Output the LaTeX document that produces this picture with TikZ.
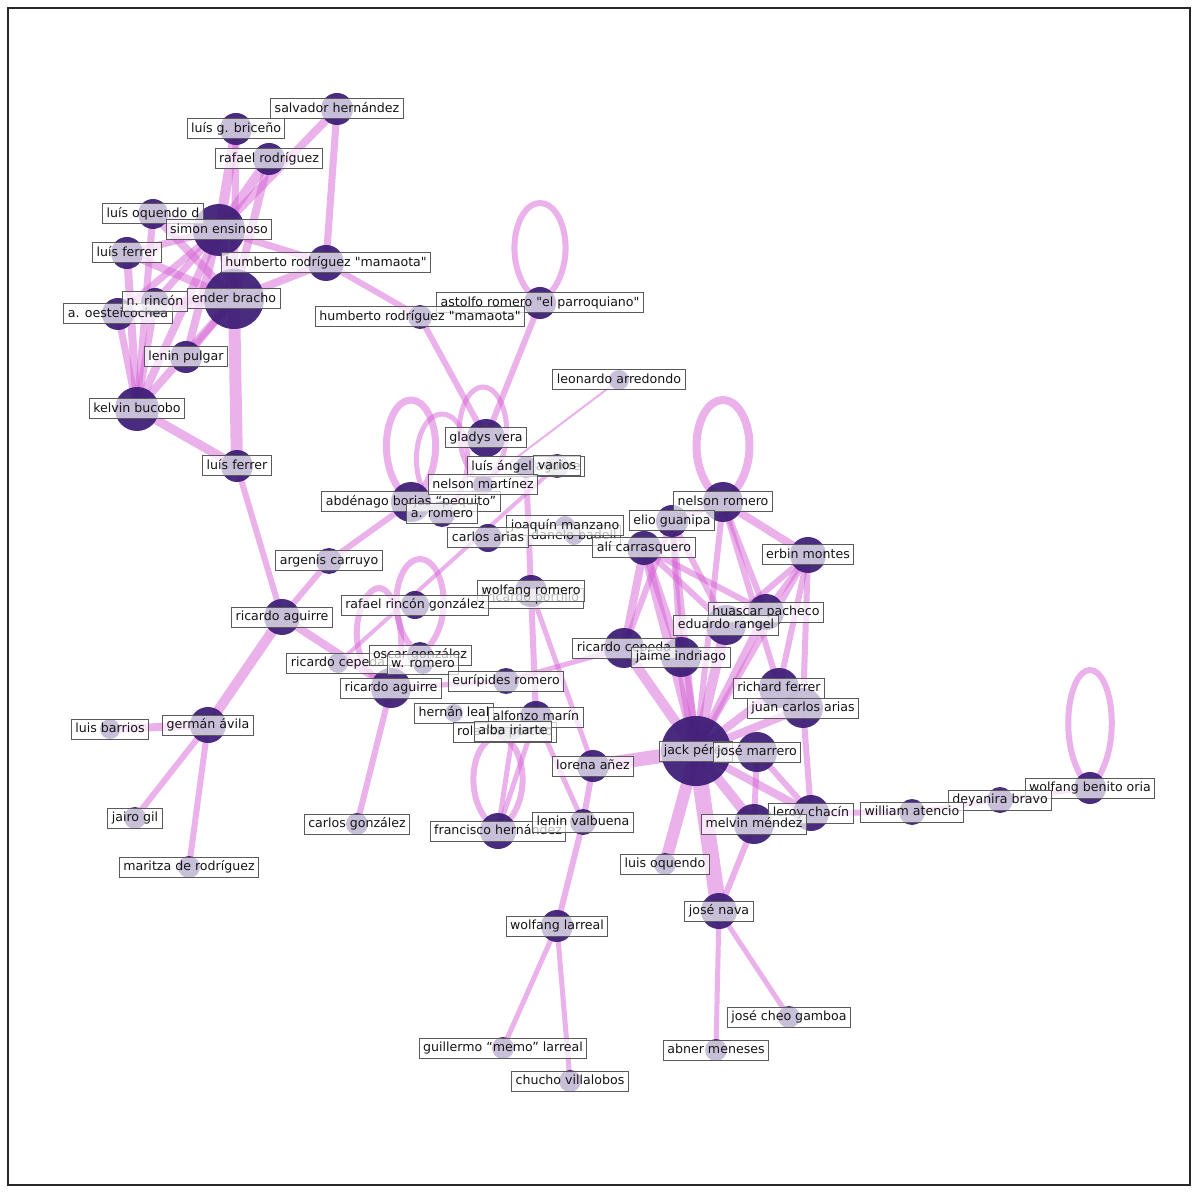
\documentclass[tikz,border=0pt]{standalone}
\usepackage{fontspec}
\setmainfont{DejaVu Sans}
\definecolor{nodec}{RGB}{60,28,118}
\definecolor{edgec}{RGB}{214,100,214}
\definecolor{boxc}{RGB}{90,90,90}
\definecolor{framec}{RGB}{40,40,40}
\definecolor{txtc}{RGB}{20,20,20}
\newcommand\qq{\textquotedbl}
\newcommand\gnodelist{%
\gnode{salv}{337}{109}{16}{salvador hernández}%
\gnode{brice}{236}{129}{16}{luís g. briceño}%
\gnode{rafr}{269}{159}{16}{rafael rodríguez}%
\gnode{oqd}{153}{214}{15}{luís oquendo d}%
\gnode{simon}{219}{230}{26}{simon ensinoso}%
\gnode{ferr1}{127}{253}{16}{luís ferrer}%
\gnode{hum1}{326}{263}{18}{humberto rodríguez \qq mamaota\qq}%
\gnode{ender}{234}{299}{30}{ender bracho}%
\gnode{oest}{118}{314}{16}{a. oesteicochea}%
\gnode{rincon}{155}{302}{14}{n. rincón}%
\gnode{pulgar}{186}{357}{16}{lenin pulgar}%
\gnode{kelvin}{137}{409}{22}{kelvin bucobo}%
\gnode{astol}{540}{303}{16}{astolfo romero \qq el parroquiano\qq}%
\gnode{hum2}{420}{317}{12}{humberto rodríguez \qq mamaota\qq}%
\gnode{leo}{619}{380}{10}{leonardo arredondo}%
\gnode{gladys}{486}{438}{19}{gladys vera}%
\gnode{langel}{526}{467}{11}{luís ángel aguirre}%
\gnode{varios}{557}{466}{12}{varios}%
\gnode{ferr2}{237}{466}{16}{luís ferrer}%
\gnode{abden}{411}{502}{20}{abdénago borjas “pequito”}%
\gnode{nmart}{483}{485}{10}{nelson martínez}%
\gnode{arom}{442}{514}{13}{a. romero}%
\gnode{danelo}{574}{536}{9}{danelo badell}%
\gnode{joaq}{565}{526}{10}{joaquín manzano}%
\gnode{carias}{488}{538}{14}{carlos arias}%
\gnode{nrom}{723}{502}{20}{nelson romero}%
\gnode{elio}{672}{521}{16}{elio guanipa}%
\gnode{ali}{644}{548}{17}{alí carrasquero}%
\gnode{erbin}{808}{555}{18}{erbin montes}%
\gnode{argen}{329}{561}{13}{argenis carruyo}%
\gnode{ric1}{282}{617}{18}{ricardo aguirre}%
\gnode{portillo}{533}{598}{9}{ricardo portillo}%
\gnode{wrom}{531}{591}{16}{wolfang romero}%
\gnode{rincong}{415}{605}{14}{rafael rincón gonzález}%
\gnode{huascar}{766}{612}{18}{huascar pacheco}%
\gnode{rangel}{726}{625}{20}{eduardo rangel}%
\gnode{cep2}{624}{648}{20}{ricardo cepeda}%
\gnode{jaime}{681}{657}{20}{jaime indriago}%
\gnode{cep1}{338}{663}{10}{ricardo cepeda}%
\gnode{oscar}{420}{655}{13}{oscar gonzález}%
\gnode{wr}{423}{664}{10}{w. romero}%
\gnode{ric2}{391}{688}{20}{ricardo aguirre}%
\gnode{eurip}{506}{681}{13}{eurípides romero}%
\gnode{richard}{779}{688}{20}{richard ferrer}%
\gnode{jca}{803}{708}{20}{juan carlos arias}%
\gnode{hernan}{454}{713}{9}{hernán leal}%
\gnode{rola}{505}{732}{9}{rolando portillo}%
\gnode{alfonzo}{536}{717}{16}{alfonzo marín}%
\gnode{alba}{513}{731}{9}{alba iriarte}%
\gnode{german}{208}{725}{18}{germán ávila}%
\gnode{barrios}{110}{729}{10}{luis barrios}%
\gnode{jack}{696}{751}{35}{jack pérez}%
\gnode{marrero}{757}{752}{20}{josé marrero}%
\gnode{lorena}{593}{766}{16}{lorena añez}%
\gnode{wbo}{1090}{788}{16}{wolfang benito oria}%
\gnode{deyan}{1000}{800}{13}{deyanira bravo}%
\gnode{william}{912}{812}{13}{william atencio}%
\gnode{leroy}{811}{813}{18}{leroy chacín}%
\gnode{melvin}{754}{824}{20}{melvin méndez}%
\gnode{franc}{498}{831}{18}{francisco hernández}%
\gnode{lvalb}{583}{822}{13}{lenin valbuena}%
\gnode{jairo}{135}{818}{11}{jairo gil}%
\gnode{cgonz}{357}{824}{11}{carlos gonzález}%
\gnode{loq}{665}{864}{11}{luis oquendo}%
\gnode{maritza}{189}{867}{11}{maritza de rodríguez}%
\gnode{nava}{719}{911}{18}{josé nava}%
\gnode{larreal}{557}{926}{16}{wolfang larreal}%
\gnode{cheo}{789}{1017}{11}{josé cheo gamboa}%
\gnode{memo}{503}{1048}{11}{guillermo “memo” larreal}%
\gnode{abner}{716}{1050}{11}{abner meneses}%
\gnode{chucho}{570}{1081}{11}{chucho villalobos}%
}
% self loop: node, half width, height, line width (px)
\newcommand\selfloop[4]{\draw[lp=#4] (#1) .. controls +(-1.5*#2,-0.3*#3) and +(-#2,0) .. ++(0,-#3)
  .. controls +(#2,0) and +(1.5*#2,-0.3*#3) .. (#1);}
\begin{document}
\begin{tikzpicture}[x=0.5pt,y=-0.5pt,
  vtx/.style={circle,fill=nodec,fill opacity=0.93,draw=none,inner sep=0pt,minimum size=#1*1pt},
  lbl/.style={draw=boxc,line width=0.5pt,fill=white,fill opacity=0.7,text opacity=1,text=txtc,
    inner xsep=2pt,inner ysep=1.9pt,text height=4.8pt,text depth=1.4pt,
    font=\fontsize{6.3}{7}\selectfont},
  ed/.style={draw=edgec,draw opacity=0.5,line width=#1*0.5pt},
  lp/.style={draw=edgec,draw opacity=0.5,line width=#1*0.5pt}]
\useasboundingbox (0,0) rectangle (1200,1192);
\fill[white] (0,0) rectangle (1200,1192);
\draw[framec,line width=0.6pt] (8,8) rectangle (1190,1185);
% coordinates
\def\gnode#1#2#3#4#5{\coordinate (#1) at (#2,#3);}
\gnodelist
\coordinate (ric2top) at (379,588);
% edges, top-left cluster
\draw[ed=8] (salv) -- (simon);
\draw[ed=7] (salv) -- (hum1);
\draw[ed=10] (brice) -- (simon);
\draw[ed=7] (brice) -- (ender);
\draw[ed=10] (rafr) -- (simon);
\draw[ed=8] (rafr) -- (ender);
\draw[ed=7] (oqd) -- (simon);
\draw[ed=8] (oqd) -- (ender);
\draw[ed=7] (oqd) -- (kelvin);
\draw[ed=7] (ferr1) -- (simon);
\draw[ed=8] (ferr1) -- (ender);
\draw[ed=8] (ferr1) -- (kelvin);
\draw[ed=10] (simon) -- (ender);
\draw[ed=7] (simon) -- (hum1);
\draw[ed=8] (simon) -- (kelvin);
\draw[ed=7] (simon) -- (oest);
\draw[ed=7] (simon) -- (rincon);
\draw[ed=8] (simon) -- (pulgar);
\draw[ed=8] (ender) -- (hum1);
\draw[ed=8] (ender) -- (kelvin);
\draw[ed=7] (ender) -- (pulgar);
\draw[ed=7] (ender) -- (rincon);
\draw[ed=7] (ender) -- (oest);
\draw[ed=12] (ender) -- (ferr2);
\draw[ed=7] (kelvin) -- (oest);
\draw[ed=7] (kelvin) -- (rincon);
\draw[ed=9] (kelvin) -- (ferr2);
% middle
\draw[ed=6] (hum1) -- (hum2);
\draw[ed=6] (hum2) -- (gladys);
\draw[ed=6] (astol) -- (gladys);
\draw[ed=6] (langel) -- (wrom);
\draw[ed=2] (leo) -- (arom);
\draw[ed=4] (cep1) -- (varios);
\draw[ed=6] (ferr2) -- (ric1);
\draw[ed=6] (ric1) -- (argen);
\draw[ed=6] (argen) -- (abden);
\draw[ed=10] (ric1) -- (german);
\draw[ed=8] (ric1) -- (ric2);
\draw[ed=8] (german) -- (barrios);
\draw[ed=6] (german) -- (jairo);
\draw[ed=6] (german) -- (maritza);
\draw[ed=6] (ric2) -- (cgonz);
\draw[ed=5] (ric2) -- (eurip);
\draw[ed=5] (eurip) -- (cep2);
\draw[ed=6] (wrom) -- (alfonzo);
\draw[ed=5] (wrom) -- (lorena);
\draw[ed=5] (alfonzo) -- (lvalb);
\draw[ed=5] (franc) -- (alfonzo);
\draw[ed=5] (franc) -- (alba);
\draw[ed=14] (lorena) -- (jack);
\draw[ed=6] (lorena) -- (lvalb);
\draw[ed=6] (lvalb) -- (larreal);
\draw[ed=5] (larreal) -- (memo);
\draw[ed=5] (larreal) -- (chucho);
% right cluster
\draw[ed=16] (jack) -- (nava);
\draw[ed=12] (jack) -- (loq);
\draw[ed=10] (jack) -- (melvin);
\draw[ed=8] (jack) -- (leroy);
\draw[ed=10] (jack) -- (marrero);
\draw[ed=8] (jack) -- (jca);
\draw[ed=8] (jack) -- (richard);
\draw[ed=10] (jack) -- (rangel);
\draw[ed=8] (jack) -- (huascar);
\draw[ed=12] (jack) -- (jaime);
\draw[ed=10] (jack) -- (cep2);
\draw[ed=9] (jack) -- (ali);
\draw[ed=7] (jack) -- (elio);
\draw[ed=6] (jack) -- (nrom);
\draw[ed=6] (jack) -- (erbin);
\draw[ed=6] (melvin) -- (nava);
\draw[ed=5] (nava) -- (abner);
\draw[ed=5] (nava) -- (cheo);
\draw[ed=6] (leroy) -- (william);
\draw[ed=4] (william) -- (deyan);
\draw[ed=4] (deyan) -- (wbo);
\draw[ed=6] (marrero) -- (leroy);
\draw[ed=6] (marrero) -- (melvin);
\draw[ed=6] (jca) -- (leroy);
\draw[ed=8] (ali) -- (cep2);
\draw[ed=8] (ali) -- (jaime);
\draw[ed=6] (ali) -- (rangel);
\draw[ed=6] (ali) -- (huascar);
\draw[ed=6] (elio) -- (cep2);
\draw[ed=6] (elio) -- (jaime);
\draw[ed=6] (elio) -- (rangel);
\draw[ed=8] (nrom) -- (erbin);
\draw[ed=6] (nrom) -- (huascar);
\draw[ed=6] (nrom) -- (richard);
\draw[ed=6] (nrom) -- (elio);
\draw[ed=6] (erbin) -- (huascar);
\draw[ed=6] (erbin) -- (richard);
\draw[ed=6] (erbin) -- (jca);
\draw[ed=6] (erbin) -- (rangel);
% self loops
\selfloop{astol}{27}{100}{6}
\selfloop{nrom}{28}{102}{8}
\selfloop{wbo}{23}{118}{6}
\selfloop{abden}{26}{102}{7}
\selfloop{arom}{27}{100}{5}
\selfloop{nmart}{25}{98}{5}
\selfloop{oscar}{25}{96}{6}
\draw[lp=6] (ric2) .. controls +(-55,-25) and +(-20,0) .. (ric2top)
  .. controls +(20,0) and +(20,-30) .. (ric2);
\selfloop{franc}{26}{94}{6}
% circles
\def\gnode#1#2#3#4#5{\node[vtx=#4] (c-#1) at (#1) {};}
\gnodelist
% labels
\def\gnode#1#2#3#4#5{\node[lbl] (l-#1) at (#1) {#5};}
\gnodelist
\end{tikzpicture}
\end{document}
